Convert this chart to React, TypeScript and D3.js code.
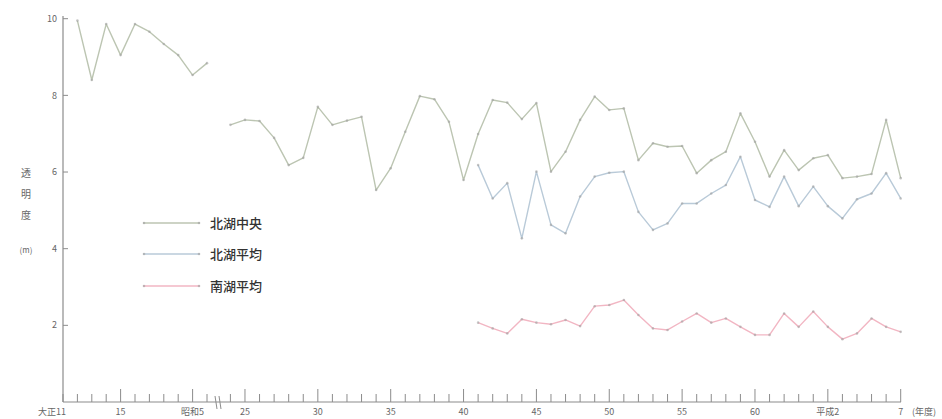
import React from "react";
import * as d3 from "d3";

// 透明度の年度推移（大正期と昭和24年度以降）
const preYears = [1923, 1924, 1925, 1926, 1927, 1928, 1929, 1930, 1931, 1932];
const preNorthCenter = [9.95, 8.4, 9.86, 9.05, 9.86, 9.66, 9.34, 9.05, 8.53, 8.84];

const postYears = d3.range(1949, 1996);
const northCenter = [
  7.23, 7.36, 7.33, 6.89, 6.18, 6.37, 7.7, 7.23, 7.34, 7.44,
  5.53, 6.1, 7.05, 7.98, 7.9, 7.31, 5.79, 6.99, 7.88, 7.81,
  7.38, 7.8, 6.01, 6.53, 7.36, 7.97, 7.62, 7.66, 6.31, 6.75,
  6.66, 6.68, 5.97, 6.31, 6.53, 7.53, 6.79, 5.88, 6.57, 6.05,
  6.36, 6.44, 5.84, 5.88, 5.95, 7.36, 5.84,
];

const avgYears = d3.range(1966, 1996);
const northAvg = [
  6.18, 5.31, 5.71, 4.27, 6.01, 4.62, 4.4, 5.36, 5.88, 5.98,
  6.01, 4.96, 4.49, 4.66, 5.18, 5.18, 5.44, 5.66, 6.4, 5.27,
  5.09, 5.88, 5.11, 5.62, 5.11, 4.79, 5.29, 5.44, 5.97, 5.31,
];
const southAvg = [
  2.07, 1.92, 1.79, 2.16, 2.07, 2.03, 2.14, 1.98, 2.5, 2.53,
  2.66, 2.27, 1.92, 1.88, 2.1, 2.31, 2.07, 2.18, 1.96, 1.75,
  1.75, 2.31, 1.96, 2.36, 1.96, 1.64, 1.79, 2.18, 1.96, 1.83,
];

const yTicks = [2, 4, 6, 8, 10];
const preTickLabels: [number, string][] = [
  [1922, "大正11"],
  [1926, "15"],
  [1931, "昭和5"],
];
const postTickLabels: [number, string][] = [
  [1950, "25"],
  [1955, "30"],
  [1960, "35"],
  [1965, "40"],
  [1970, "45"],
  [1975, "50"],
  [1980, "55"],
  [1985, "60"],
  [1990, "平成2"],
  [1995, "7"],
];
const legendNames = ["北湖中央", "北湖平均", "南湖平均"];

const W = 942;
const H = 419;
const x0 = 63;
const yBase = 402;

const colors = ["#bcc5b2", "#b9cad8", "#f2b6c3"];
const markerColor = "#a0a0a0";
const axisColor = "#8c8c8c";
const textColor = "#666";
const font = "'Noto Sans CJK JP', 'Noto Sans', sans-serif";

export default function App() {
  const y = d3.scaleLinear().domain([0, 10]).range([yBase, 18.7]);
  const xPre = d3.scaleLinear().domain([1922, 1932]).range([x0, 207]);
  const xPost = d3.scaleLinear().domain([1949, 1995]).range([230.4, 900.7]);

  const path = (xs: d3.ScaleLinear<number, number>, years: number[], vals: number[]) =>
    d3
      .line<number>()
      .x((_, i) => xs(years[i]))
      .y((v) => y(v))(vals) || "";

  const series = [
    { xs: xPre, years: preYears, vals: preNorthCenter, c: 0 },
    { xs: xPost, years: postYears, vals: northCenter, c: 0 },
    { xs: xPost, years: avgYears, vals: northAvg, c: 1 },
    { xs: xPost, years: avgYears, vals: southAvg, c: 2 },
  ];

  const preTicks = d3.range(1922, 1933);
  const postTicks = d3.range(1949, 1996);

  return (
    <svg
      width={W}
      height={H}
      style={{ position: "fixed", left: 0, top: 0, background: "#fff" }}
      fontFamily={font}
    >
      {/* y axis */}
      <line x1={x0} x2={x0} y1={16} y2={yBase} stroke={axisColor} strokeWidth={1.2} />
      {yTicks.map((t) => (
        <g key={t}>
          <line x1={x0} x2={x0 + 5} y1={y(t)} y2={y(t)} stroke={axisColor} strokeWidth={1} />
          <text x={x0 - 6} y={y(t)} dy="0.35em" textAnchor="end" fontSize={9} fill={textColor}>
            {t}
          </text>
        </g>
      ))}
      {["透", "明", "度"].map((ch, i) => (
        <text key={ch} x={26} y={173 + i * 21} dy="0.35em" textAnchor="middle" fontSize={10} fill={textColor}>
          {ch}
        </text>
      ))}
      <text x={26} y={250} dy="0.35em" textAnchor="middle" fontSize={8} fill={textColor}>
        (m)
      </text>

      {/* x axis */}
      <line x1={x0} x2={901} y1={yBase} y2={yBase} stroke={axisColor} strokeWidth={1.2} />
      {preTicks.map((t) => {
        const major = t === 1926 || t === 1931;
        return (
          <line
            key={"p" + t}
            x1={xPre(t)}
            x2={xPre(t)}
            y1={yBase}
            y2={yBase - (major ? 13 : 8)}
            stroke={axisColor}
            strokeWidth={1}
          />
        );
      })}
      {postTicks.map((t) => {
        const major = t % 5 === 0;
        return (
          <line
            key={"q" + t}
            x1={xPost(t)}
            x2={xPost(t)}
            y1={yBase}
            y2={yBase - (major ? 13 : 8)}
            stroke={axisColor}
            strokeWidth={1}
          />
        );
      })}
      {/* axis break */}
      <line x1={215} x2={217} y1={396} y2={409} stroke={axisColor} strokeWidth={1} />
      <line x1={219} x2={221} y1={396} y2={409} stroke={axisColor} strokeWidth={1} />

      {preTickLabels.map(([t, s]) => (
        <text
          key={s}
          x={t === 1922 ? xPre(t) + 3 : xPre(t)}
          y={412}
          dy="0.35em"
          textAnchor={t === 1922 ? "end" : "middle"}
          fontSize={9}
          fill={textColor}
        >
          {s}
        </text>
      ))}
      {postTickLabels.map(([t, s]) => (
        <text key={s} x={xPost(t)} y={412} dy="0.35em" textAnchor="middle" fontSize={9} fill={textColor}>
          {s}
        </text>
      ))}
      <text x={912} y={412} dy="0.35em" fontSize={9} fill={textColor}>
        (年度)
      </text>

      {/* series */}
      {series.map((s, k) => (
        <g key={k}>
          <path
            d={path(s.xs, s.years, s.vals)}
            fill="none"
            stroke={colors[s.c]}
            strokeWidth={1.4}
            strokeLinejoin="round"
          />
          {s.vals.map((v, i) => (
            <circle key={i} cx={s.xs(s.years[i])} cy={y(v)} r={1.3} fill={markerColor} opacity={0.6} />
          ))}
        </g>
      ))}

      {/* legend */}
      {legendNames.map((name, i) => {
        const ly = [223, 254, 286][i];
        return (
          <g key={name}>
            <line x1={143} x2={200} y1={ly} y2={ly} stroke={colors[i]} strokeWidth={1.5} />
            <circle cx={144} cy={ly} r={1.3} fill={markerColor} opacity={0.6} />
            <circle cx={199} cy={ly} r={1.3} fill={markerColor} opacity={0.6} />
            <text x={210} y={ly} dy="0.35em" fontSize={13} fontWeight={500} fill="#333">
              {name}
            </text>
          </g>
        );
      })}
    </svg>
  );
}
